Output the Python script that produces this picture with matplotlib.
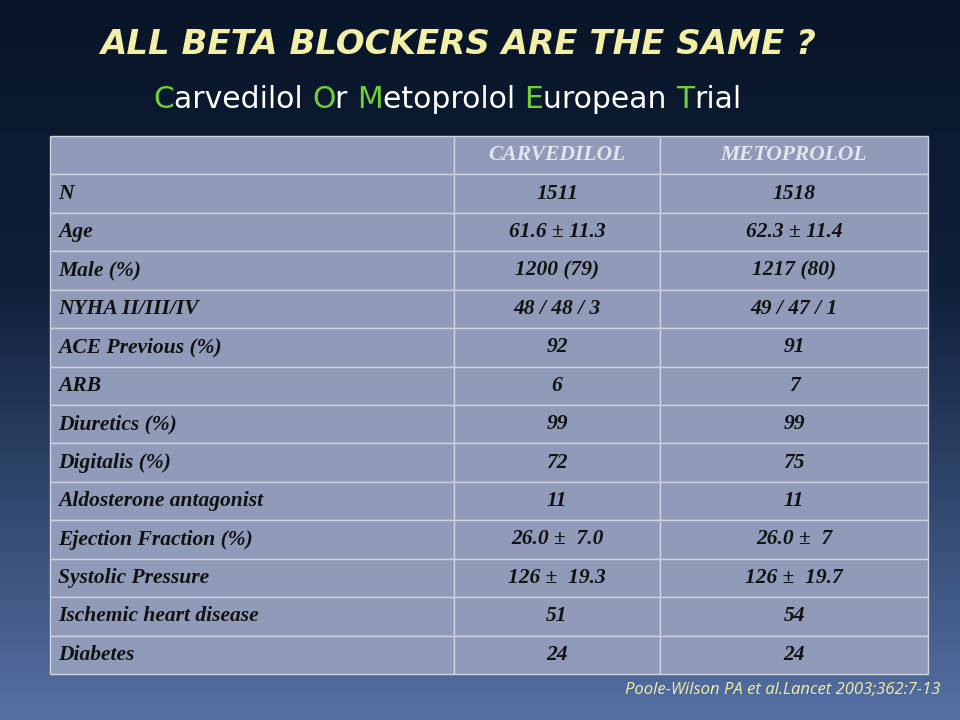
import numpy as np
import matplotlib
matplotlib.use("Agg")
import matplotlib.pyplot as plt

title = "ALL BETA BLOCKERS ARE THE SAME ?"
subtitle_parts = [("C", True), ("arvedilol ", False), ("O", True), ("r ", False),
                  ("M", True), ("etoprolol ", False), ("E", True), ("uropean ", False),
                  ("T", True), ("rial", False)]
columns = ["", "CARVEDILOL", "METOPROLOL"]
rows = ["N", "Age", "Male (%)", "NYHA II/III/IV", "ACE Previous (%)", "ARB",
        "Diuretics (%)", "Digitalis (%)", "Aldosterone antagonist",
        "Ejection Fraction (%)", "Systolic Pressure", "Ischemic heart disease", "Diabetes"]
carvedilol = ["1511", "61.6 ± 11.3", "1200 (79)", "48 / 48 / 3", "92", "6", "99", "72",
              "11", "26.0 ±  7.0", "126 ±  19.3", "51", "24"]
metoprolol = ["1518", "62.3 ± 11.4", "1217 (80)", "49 / 47 / 1", "91", "7", "99", "75",
              "11", "26.0 ±  7", "126 ±  19.7", "54", "24"]
citation = "Poole-Wilson PA et al.Lancet 2003;362:7-13"

fig = plt.figure(figsize=(9.6, 7.2), dpi=100)
ax = fig.add_axes([0, 0, 1, 1])
ax.set_xlim(0, 1); ax.set_ylim(0, 1); ax.axis("off")

# background gradient
t = np.linspace(0, 1, 256)[:, None]
top = np.array([0x09, 0x15, 0x28]) / 255
mid = np.array([0x0f, 0x20, 0x3a]) / 255
bot = np.array([0x55, 0x70, 0xa4]) / 255
w = np.clip((t - 0.4) / 0.6, 0, 1)
grad = np.where(t < 0.4, top + (mid - top) * (t / 0.4), mid + (bot - mid) * w)
img = np.repeat(grad[:, None, :], 2, axis=1).reshape(256, 2, 3)
ax.imshow(img, extent=[0, 1, 0, 1], aspect="auto", origin="upper", zorder=0)

ax.text(0.477, 1 - 45 / 720, title, ha="center", va="center", fontsize=24.5,
        fontweight="bold", fontstyle="italic", color="#f3efa6", family="DejaVu Sans")

prev = ax.text(153 / 960, 1 - 99 / 720, subtitle_parts[0][0], ha="left", va="center",
               fontsize=21.5, color="#6fd03c", family="DejaVu Sans")
for txt, green in subtitle_parts[1:]:
    prev = ax.annotate(txt, xy=(1, 0), xycoords=prev, ha="left", va="bottom",
                       fontsize=21.5, color="#6fd03c" if green else "white",
                       family="DejaVu Sans")

cell_text = [[r, c, m] for r, c, m in zip(rows, carvedilol, metoprolol)]
x0, x1 = 50 / 960, 928 / 960
y0, y1 = 1 - 674 / 720, 1 - 136 / 720
tb = ax.table(cellText=cell_text, colLabels=columns,
              colWidths=[404, 206, 268], bbox=[x0, y0, x1 - x0, y1 - y0], zorder=2)
tb.auto_set_font_size(False)
for (r, c), cell in tb.get_celld().items():
    cell.set_facecolor("#8f9bb8")
    cell.set_edgecolor("#cfd3df")
    cell.set_linewidth(1.0)
    txt = cell.get_text()
    txt.set_fontsize(15.5)
    txt.set_fontweight("bold")
    txt.set_fontstyle("italic")
    txt.set_family("Liberation Serif")
    txt.set_color("#e4e6ee" if r == 0 else "#111111")
    if c == 0:
        cell.set_text_props(ha="left")
        cell.PAD = 0.02
    else:
        cell.set_text_props(ha="center")

ax.text(940 / 960, 1 - 690 / 720, citation, ha="right", va="center", fontsize=12,
        fontstyle="italic", color="#f3efa6", family="Open Sans")

fig.savefig("out.png", dpi=100)
